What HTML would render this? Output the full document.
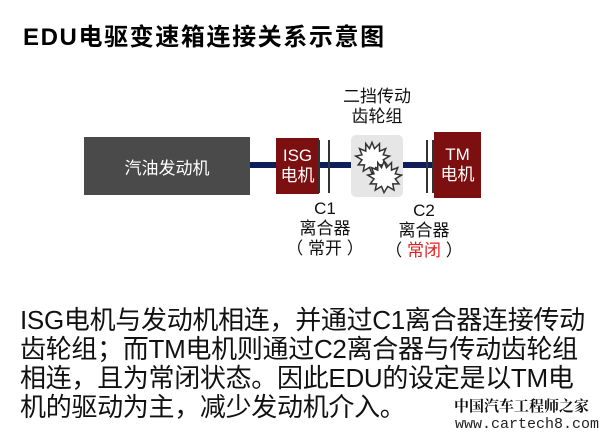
<!DOCTYPE html>
<html><head><meta charset="utf-8"><style>
body{margin:0;width:600px;height:446px;background:#fff;position:relative;overflow:hidden;font-family:"Liberation Sans","Noto Sans CJK SC",sans-serif;}
.a{position:absolute;}
.t{left:23px;top:17px;font-size:24px;font-weight:bold;letter-spacing:1.6px;color:#000;white-space:nowrap;}
.box{position:absolute;display:flex;align-items:center;justify-content:center;color:#fff;text-align:center;}
.lbl{position:absolute;text-align:center;font-size:17px;line-height:20px;color:#111;white-space:nowrap;}
.body{left:20px;top:306px;font-size:26px;line-height:29px;color:#111;white-space:nowrap;letter-spacing:-0.3px;}
</style></head><body>
<div class="a t">EDU电驱变速箱连接关系示意图</div>
<div class="a" style="left:242px;top:162px;width:195px;height:6px;background:#0d1f5a"></div>
<div class="box" style="left:84px;top:137px;width:166px;height:58px;background:#4a4a4a;font-size:17px;">汽油发动机</div>
<div class="box" style="left:276px;top:138px;width:43px;height:56px;background:#7c0f0f;font-size:17px;line-height:20px;">ISG<br>电机</div>
<div class="a" style="left:318px;top:140px;width:1.5px;height:53px;background:#333"></div>
<div class="a" style="left:328px;top:140px;width:1.5px;height:53px;background:#333"></div>
<div class="a" style="left:351px;top:135px;width:52px;height:62px;background:#e6e6e6;border-radius:5px"></div>
<svg class="a" style="left:351px;top:135px" width="52" height="62" viewBox="0 0 52 62">
<g fill="#fff" stroke="#333" stroke-width="1.2">
<g transform="translate(21,23) scale(1.25) translate(-23,-24.5)"><polygon points="23,12 25,17 29,13 29,19 34,17 32,22 37,23 32,26 35,30 30,30 31,35 26,32 23,37 21,32 16,35 17,30 12,30 15,26 10,23 15,22 13,17 18,19 18,13 21,17"/></g>
<g transform="translate(33,42) scale(1.25) translate(-33,-41.5)"><polygon points="33,29 35,34 39,30 39,36 44,34 42,39 47,40 42,43 45,47 40,47 41,52 36,49 33,54 31,49 26,52 27,47 22,47 25,43 20,40 25,39 23,34 28,36 28,30 31,34"/></g>
</g></svg>
<div class="a" style="left:426px;top:140px;width:1.5px;height:53px;background:#333"></div>
<div class="a" style="left:432px;top:140px;width:1.5px;height:53px;background:#333"></div>
<div class="box" style="left:434px;top:132px;width:47px;height:66px;background:#7c0f0f;font-size:17px;line-height:20px;">TM<br>电机</div>
<div class="lbl" style="left:337px;top:87px;width:80px;">二挡传动<br>齿轮组</div>
<div class="lbl" style="left:285px;top:199px;width:80px;">C1<br>离合器<br>（ 常开 ）</div>
<div class="lbl" style="left:384px;top:201px;width:80px;">C2<br>离合器<br>（ <span style="color:#e02020">常闭</span> ）</div>
<div class="a body">ISG电机与发动机相连，并通过C1离合器连接传动<br>齿轮组；而TM电机则通过C2离合器与传动齿轮组<br>相连，且为常闭状态。因此EDU的设定是以TM电<br>机的驱动为主，减少发动机介入。</div>
<div class="a" style="left:454px;top:395px;font-size:15px;font-weight:bold;font-family:'Noto Serif CJK SC',serif;color:#111;white-space:nowrap;">中国汽车工程师之家</div>
<div class="a" style="left:455px;top:416px;font-size:15px;font-family:'Liberation Mono',monospace;color:#222;white-space:nowrap;">www.cartech8.com</div>
</body></html>
